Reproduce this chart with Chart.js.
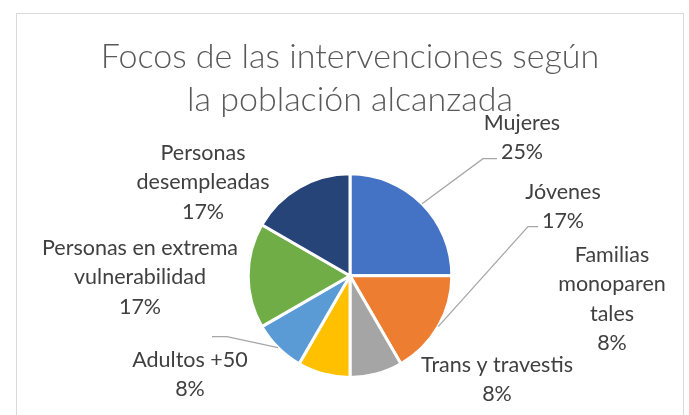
<!DOCTYPE html>
<html>
<head>
<meta charset="utf-8">
<script src="https://cdn.jsdelivr.net/npm/chart.js@4/dist/chart.umd.min.js"></script>
<style>
  html, body { margin: 0; padding: 0; background: #fff; }
  #wrap { width: 689px; height: 415px; }
</style>
</head>
<body>
<div id="wrap"><canvas id="focosChart"></canvas></div>
<script>
// data
var categories = ["Mujeres", "Jóvenes", "Familias monoparentales", "Trans y travestis",
                  "Adultos +50", "Personas en extrema vulnerabilidad", "Personas desempleadas"];
var counts = [3, 2, 1, 1, 1, 2, 2];
// how each category name is broken over lines in the picture
var nameLines = [["Mujeres"], ["Jóvenes"], ["Familias", "monoparen", "tales"], ["Trans y travestis"],
                 ["Adultos +50"], ["Personas en extrema", "vulnerabilidad"], ["Personas", "desempleadas"]];

var colors = ["#4472C4", "#ED7D31", "#A5A5A5", "#FFC000", "#5B9BD5", "#70AD47", "#264478"];

// label placement, px from pie centre: text (first line centre) and optional leader elbow
var labelPos = [
  {x: 172, y: -153, elbow: [133, -117], end: [147, -117]},
  {x: 213, y: -84, elbow: [178, -49], end: [188, -49]},
  {x: 262, y: -21},
  {x: 147, y: 89},
  {x: -160, y: 84, elbow: [-123, 61], end: [-138, 61]},
  {x: -210, y: -28},
  {x: -147, y: -123}
];
var lineGap = 29.5;
var fontFam = "Lato, 'Open Sans', sans-serif";

var total = counts.reduce(function(a, b) { return a + b; }, 0);

// grey frame round the chart
var framePlugin = {
  id: "frame",
  beforeDraw: function(chart) {
    var ctx = chart.ctx;
    ctx.save();
    ctx.strokeStyle = "#D9D9D9";
    ctx.lineWidth = 1;
    ctx.strokeRect(16.5, 13.5, 667, 420);
    ctx.restore();
  }
};

// data labels with leader lines
var labelPlugin = {
  id: "pieLabels",
  afterDraw: function(chart) {
    var ctx = chart.ctx;
    var meta = chart.getDatasetMeta(0);
    ctx.save();
    meta.data.forEach(function(arc, i) {
      var cx = arc.x, cy = arc.y;
      var p = labelPos[i];
      if (p.elbow) {
        var mid = (arc.startAngle + arc.endAngle) / 2;
        var r = arc.outerRadius;
        ctx.beginPath();
        ctx.strokeStyle = "#A6A6A6";
        ctx.lineWidth = 1.3;
        ctx.moveTo(cx + Math.cos(mid) * r, cy + Math.sin(mid) * r);
        ctx.lineTo(cx + p.elbow[0], cy + p.elbow[1]);
        ctx.lineTo(cx + p.end[0], cy + p.end[1]);
        ctx.stroke();
      }
      var lines = nameLines[i].concat([Math.round(counts[i] / total * 100) + "%"]);
      ctx.fillStyle = "#404040";
      ctx.font = "21.5px " + fontFam;
      ctx.textAlign = "center";
      ctx.textBaseline = "middle";
      lines.forEach(function(t, k) {
        ctx.fillText(t, cx + p.x, cy + p.y + k * lineGap);
      });
    });
    ctx.restore();
  }
};

var chart = new Chart("focosChart", {
  type: "pie",
  data: {
    labels: categories,
    datasets: [{
      data: counts,
      backgroundColor: colors,
      borderColor: "#ffffff",
      borderWidth: 3
    }]
  },
  options: {
    responsive: true,
    maintainAspectRatio: false,
    animation: false,
    layout: { padding: { left: 11, right: 0, top: 0, bottom: 36 } },
    plugins: {
      legend: { display: false },
      tooltip: { enabled: false },
      title: {
        display: true,
        text: ["Focos de las intervenciones según", "la población alcanzada"],
        color: "#595959",
        font: { family: fontFam, size: 34, weight: 300, lineHeight: 1.27 },
        padding: { top: 35, bottom: 51 }
      }
    }
  },
  plugins: [framePlugin, labelPlugin]
});
</script>
</body>
</html>
